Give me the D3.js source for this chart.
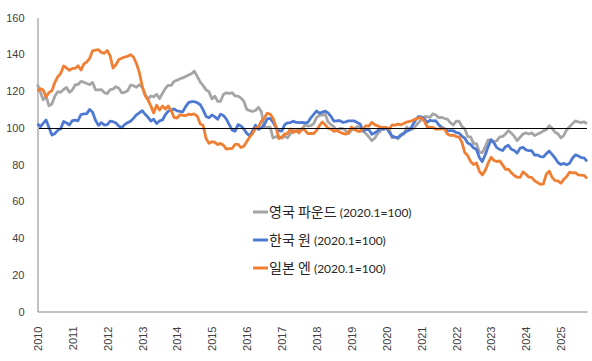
<!DOCTYPE html>
<html>
<head>
<meta charset="utf-8">
<script src="https://cdn.jsdelivr.net/npm/d3@7"></script>
<style>
  body { margin: 0; background: #fff; }
  .tick text { fill: #404040; font-family: "Liberation Sans", Arial, sans-serif; font-size: 11px; }
  .legend text { fill: #262626; }
</style>
</head>
<body>
<div class="root"></div>
<script>
// monthly, 2010.1 ~ 2025.10, index 2020.1 = 100
var startMonth = new Date(2010, 0, 1);
var yTicks = [0, 20, 40, 60, 80, 100, 120, 140, 160];
var seriesNames = ['영국 파운드', '한국 원', '일본 엔'];
var baseLabel = '(2020.1=100)';

var gbp = [
  123.6,119.3,115.2,117.2,111.9,112.9,117.1,119.6,119.3,120.8,121.9,119.3,
  120.6,123.4,123.5,125.2,124.8,124.1,123.5,124.7,120.6,120.6,120.8,119.1,
  118.6,120.8,121.0,122.4,121.5,119.0,119.3,120.1,123.2,122.9,122.0,123.4,
  122.1,118.3,115.4,117.3,116.8,118.2,115.9,118.7,121.4,123.1,123.1,125.2,
  125.9,126.7,127.1,127.9,128.7,129.4,130.8,127.8,124.8,122.9,120.6,119.6,
  115.7,117.2,114.4,114.4,118.1,119.0,118.7,119.0,117.3,117.2,116.1,114.4,
  109.9,109.3,108.9,109.4,111.1,108.8,100.5,100.2,100.4,94.5,95.1,95.3,
  94.3,95.5,94.5,96.6,98.7,97.9,99.2,98.9,101.8,100.9,101.1,102.2,
  105.6,106.7,106.9,107.3,103.1,101.7,100.5,98.6,99.7,99.5,98.5,96.8,
  98.7,99.5,100.7,99.7,98.3,96.8,95.1,93.0,94.3,96.7,98.4,100.2,
  100.0,99.0,94.6,94.8,94.0,95.7,96.5,100.4,99.0,99.2,100.9,102.7,
  104.3,106.0,106.0,105.7,107.6,106.9,105.5,105.7,105.0,104.7,102.8,101.5,
  103.6,103.4,100.8,99.3,95.2,95.0,91.5,91.3,86.6,86.5,89.6,93.4,
  93.2,92.4,92.9,95.0,95.2,96.6,98.4,97.1,95.3,93.0,94.8,96.6,
  97.2,96.6,97.2,95.7,96.6,97.2,98.3,98.9,101.1,99.8,97.5,96.7,
  94.5,95.8,98.8,100.5,102.1,103.7,103.2,102.8,103.2,102.1
];

var krw = [
  102.2,100.6,102.4,104.2,100.1,96.0,96.8,98.6,99.5,103.4,102.6,101.5,
  103.9,104.1,103.8,107.2,107.5,107.7,110.0,108.4,103.9,101.3,102.8,101.5,
  101.7,103.6,103.3,102.6,100.9,100.0,101.7,102.8,103.5,105.1,107.0,108.1,
  109.3,107.3,105.8,103.7,104.6,102.3,103.7,104.2,107.2,109.1,109.6,110.2,
  109.2,108.9,108.7,111.5,113.7,114.2,114.2,113.6,112.5,109.7,106.1,105.4,
  107.0,105.9,104.6,107.4,106.7,104.7,101.7,98.7,98.2,101.7,101.0,99.3,
  96.9,95.6,98.3,101.4,99.1,100.0,101.6,104.8,105.1,103.1,100.2,98.4,
  98.2,101.7,102.7,102.8,103.6,102.9,102.8,102.9,102.7,102.9,105.4,107.3,
  109.1,107.8,108.5,109.0,108.1,106.1,103.6,103.8,103.9,102.9,103.2,103.7,
  103.7,103.7,102.9,102.0,98.4,99.0,99.1,96.4,97.2,98.3,99.7,99.1,
  100.0,97.5,95.4,94.9,94.7,96.1,97.1,98.1,98.8,101.4,104.2,106.0,
  105.9,104.8,102.9,104.0,103.7,103.8,101.7,100.2,99.5,98.3,98.4,98.4,
  97.4,97.1,95.4,94.3,91.7,90.9,89.1,88.2,83.7,81.6,85.3,89.7,
  93.5,91.7,89.2,88.2,87.6,89.7,90.5,88.3,87.6,86.2,88.9,89.3,
  88.0,87.5,87.5,85.1,85.2,84.3,84.1,85.9,87.3,85.5,83.5,81.1,
  80.0,80.6,79.9,80.6,83.4,85.2,84.7,83.8,83.6,81.7
];

var jpy = [
  120.0,121.3,120.5,116.9,119.1,120.2,124.6,127.8,129.5,133.6,132.5,131.2,
  132.3,132.3,133.8,131.4,134.6,135.8,137.8,141.9,142.3,142.5,141.0,140.5,
  142.1,139.1,132.5,134.3,137.1,137.8,138.5,138.9,139.8,138.5,135.1,130.3,
  122.7,117.4,115.3,111.9,108.1,112.3,109.6,111.8,110.2,111.8,109.3,105.6,
  105.3,107.1,106.8,106.6,107.4,107.1,107.5,106.2,102.1,101.2,94.1,91.5,
  92.4,92.0,90.8,91.5,90.5,88.4,88.6,88.8,91.0,91.0,89.2,89.9,
  92.5,95.0,96.8,99.7,100.4,103.6,105.2,107.9,107.4,105.3,100.6,94.1,
  95.0,96.6,96.8,99.3,97.4,98.6,97.2,99.5,98.6,96.8,96.9,96.8,
  98.6,101.3,103.1,101.6,99.6,99.3,98.0,98.5,97.7,96.9,96.5,97.4,
  100.4,99.0,98.3,97.9,99.4,101.1,100.9,102.9,101.7,101.0,100.4,100.2,
  100.0,99.4,101.5,101.4,102.0,101.6,102.3,103.1,103.5,103.9,104.7,105.3,
  105.3,103.7,100.6,100.2,100.2,99.3,99.2,99.5,99.2,96.6,95.8,96.0,
  95.2,94.9,92.2,86.5,84.9,81.6,80.0,80.8,76.3,74.3,76.8,80.7,
  83.9,82.2,81.6,82.0,79.8,77.4,77.5,75.5,74.0,73.1,73.0,76.0,
  74.7,73.1,73.0,71.1,70.2,69.2,69.4,74.7,76.4,73.0,71.2,71.1,
  69.8,72.0,73.3,75.8,75.4,75.6,74.4,74.2,74.1,72.4
];

var colors = ['#A5A5A5', '#4E79D3', '#F07E33'];

function drawChart() {
  var w = 592, h = 361;
  var svg = d3.select('.root').append('svg')
    .attr('width', w)
    .attr('height', h);

  var endMonth = d3.timeMonth.offset(startMonth, gbp.length - 1);
  var x = d3.scaleTime().domain([startMonth, endMonth]).range([37.5, 587]);
  var y = d3.scaleLinear().domain([0, 160]).range([311.5, 17.5]);

  // y axis
  var yAxis = svg.append('g')
    .attr('transform', 'translate(37.5,0)')
    .call(d3.axisLeft(y).tickValues(yTicks).tickSize(0).tickPadding(13));
  yAxis.select('.domain').attr('stroke', '#868686');

  // x axis
  var xAxis = svg.append('g')
    .attr('transform', 'translate(0,' + y(0) + ')')
    .call(d3.axisBottom(x).ticks(d3.timeYear.every(1)).tickSize(0).tickFormat(d3.timeFormat('%Y')));
  xAxis.select('.domain').attr('stroke', '#868686');
  xAxis.selectAll('.tick text')
    .attr('transform', 'rotate(-90)')
    .attr('text-anchor', 'end')
    .attr('x', -15)
    .attr('y', 0)
    .attr('dy', '0.35em');

  var line = d3.line()
    .x(function(d, i) { return x(d3.timeMonth.offset(startMonth, i)); })
    .y(function(d) { return y(d); });

  [gbp, krw, jpy].forEach(function(s, k) {
    svg.append('path')
      .datum(s)
      .attr('fill', 'none')
      .attr('stroke', colors[k])
      .attr('stroke-width', 2.8)
      .attr('stroke-linejoin', 'round')
      .attr('d', line);
  });

  // 100 reference line
  svg.append('line')
    .attr('x1', 39).attr('x2', 587)
    .attr('y1', Math.round(y(100)) + 0.5).attr('y2', Math.round(y(100)) + 0.5)
    .attr('stroke', '#000').attr('stroke-width', 1.2);

  // legend
  var legend = svg.append('g').attr('class', 'legend');
  seriesNames.forEach(function(name, k) {
    var ly = 212 + k * 28;
    legend.append('line')
      .attr('x1', 253).attr('x2', 268)
      .attr('y1', ly).attr('y2', ly)
      .attr('stroke', colors[k]).attr('stroke-width', 3);
    var t = legend.append('text')
      .attr('x', 269).attr('y', ly + 5);
    t.append('tspan')
      .style('font-family', '"Noto Sans CJK KR", sans-serif')
      .style('font-size', '14px')
      .text(name + ' ');
    t.append('tspan')
      .style('font-family', 'Lato, "Open Sans", sans-serif')
      .style('font-size', '12px')
      .text(baseLabel);
  });
}

window.onload = function() {
  drawChart();
};
</script>
</body>
</html>
